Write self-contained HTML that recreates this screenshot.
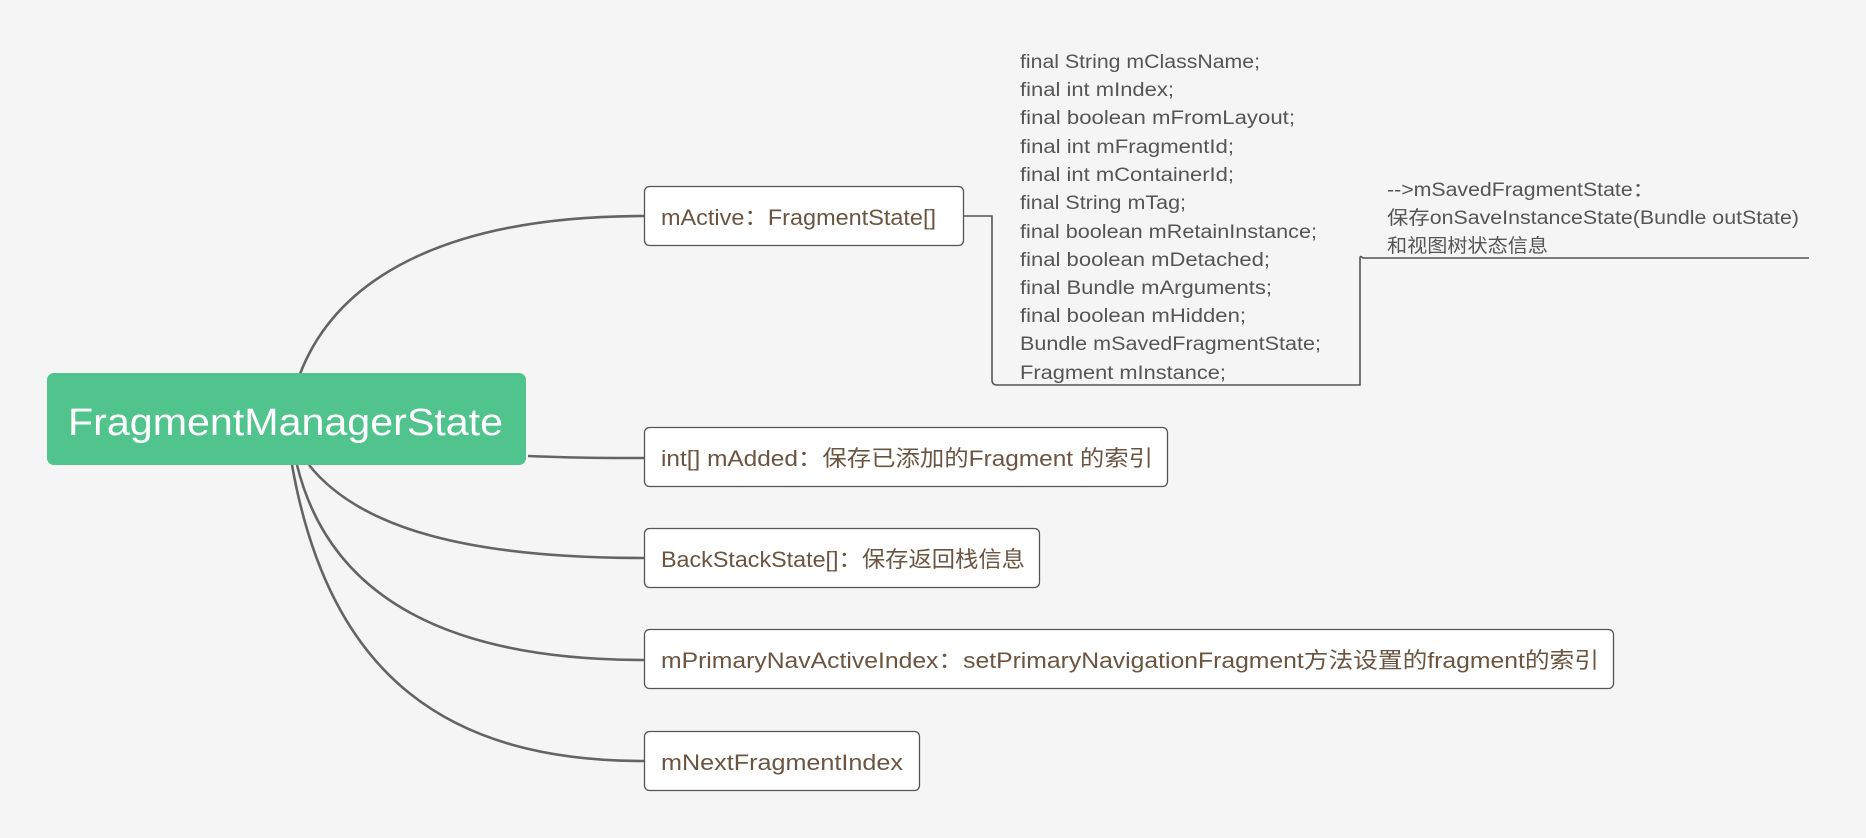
<!DOCTYPE html>
<html><head><meta charset="utf-8"><style>
html,body{margin:0;padding:0;background:#f5f5f5;}
svg{display:block;}
text{font-family:"Liberation Sans","Noto Sans CJK SC",sans-serif;}
</style></head><body>
<svg width="1866" height="838" viewBox="0 0 1866 838" xmlns="http://www.w3.org/2000/svg">
<rect width="1866" height="838" fill="#f5f5f5"/>
<g fill="none" stroke="#646464" stroke-width="2.6">
<path d="M300,374 C340,270 460,216 644,216"/>
<path d="M528,456 C580,458 600,458 644,458"/>
<path d="M309,465 C360,529 470,558 644,558"/>
<path d="M297,465 C330,599 450,660 644,660"/>
<path d="M292,465 C330,679 450,761 644,761"/>
</g>
<g fill="none" stroke="#555" stroke-width="1.6">
<path d="M963,216 H992 V380 Q992,385 997,385 H1360 V258 Q1360,255 1363,258 H1809"/>
</g>
<rect x="47" y="373" width="479" height="92" rx="7" fill="#50c48c"/>
<text x="68" y="435" font-size="38" fill="#fff" textLength="435" lengthAdjust="spacingAndGlyphs">FragmentManagerState</text>
<g fill="#fff" stroke="#555" stroke-width="1.3">
<rect x="644.5" y="186.5" width="319" height="59" rx="5"/>
<rect x="644.5" y="427.5" width="523" height="59" rx="5"/>
<rect x="644.5" y="528.5" width="395" height="59" rx="5"/>
<rect x="644.5" y="629.5" width="969" height="59" rx="5"/>
<rect x="644.5" y="731.5" width="275" height="59" rx="5"/>
</g>
<g font-size="22" fill="#6b5540">
<text x="661" y="225" textLength="275" lengthAdjust="spacingAndGlyphs">mActive：FragmentState[]</text>
<text x="661" y="466" textLength="492" lengthAdjust="spacingAndGlyphs">int[] mAdded：保存已添加的Fragment 的索引</text>
<text x="661" y="567" textLength="364" lengthAdjust="spacingAndGlyphs">BackStackState[]：保存返回栈信息</text>
<text x="661" y="668" textLength="938" lengthAdjust="spacingAndGlyphs">mPrimaryNavActiveIndex：setPrimaryNavigationFragment方法设置的fragment的索引</text>
<text x="661" y="770" textLength="242" lengthAdjust="spacingAndGlyphs">mNextFragmentIndex</text>
</g>
<g font-size="19" fill="#555">
<text x="1020" y="68" textLength="240" lengthAdjust="spacingAndGlyphs">final String mClassName;</text>
<text x="1020" y="96" textLength="154" lengthAdjust="spacingAndGlyphs">final int mIndex;</text>
<text x="1020" y="124" textLength="275" lengthAdjust="spacingAndGlyphs">final boolean mFromLayout;</text>
<text x="1020" y="153" textLength="214" lengthAdjust="spacingAndGlyphs">final int mFragmentId;</text>
<text x="1020" y="181" textLength="214" lengthAdjust="spacingAndGlyphs">final int mContainerId;</text>
<text x="1020" y="209" textLength="166" lengthAdjust="spacingAndGlyphs">final String mTag;</text>
<text x="1020" y="238" textLength="297" lengthAdjust="spacingAndGlyphs">final boolean mRetainInstance;</text>
<text x="1020" y="266" textLength="250" lengthAdjust="spacingAndGlyphs">final boolean mDetached;</text>
<text x="1020" y="294" textLength="252" lengthAdjust="spacingAndGlyphs">final Bundle mArguments;</text>
<text x="1020" y="322" textLength="226" lengthAdjust="spacingAndGlyphs">final boolean mHidden;</text>
<text x="1020" y="350" textLength="301" lengthAdjust="spacingAndGlyphs">Bundle mSavedFragmentState;</text>
<text x="1020" y="379" textLength="206" lengthAdjust="spacingAndGlyphs">Fragment mInstance;</text>
<text x="1387" y="196" textLength="267" lengthAdjust="spacingAndGlyphs">-->mSavedFragmentState：</text>
<text x="1387" y="224" textLength="412" lengthAdjust="spacingAndGlyphs">保存onSaveInstanceState(Bundle outState)</text>
<text x="1387" y="252" textLength="161" lengthAdjust="spacingAndGlyphs">和视图树状态信息</text>
</g>
</svg>
</body></html>
